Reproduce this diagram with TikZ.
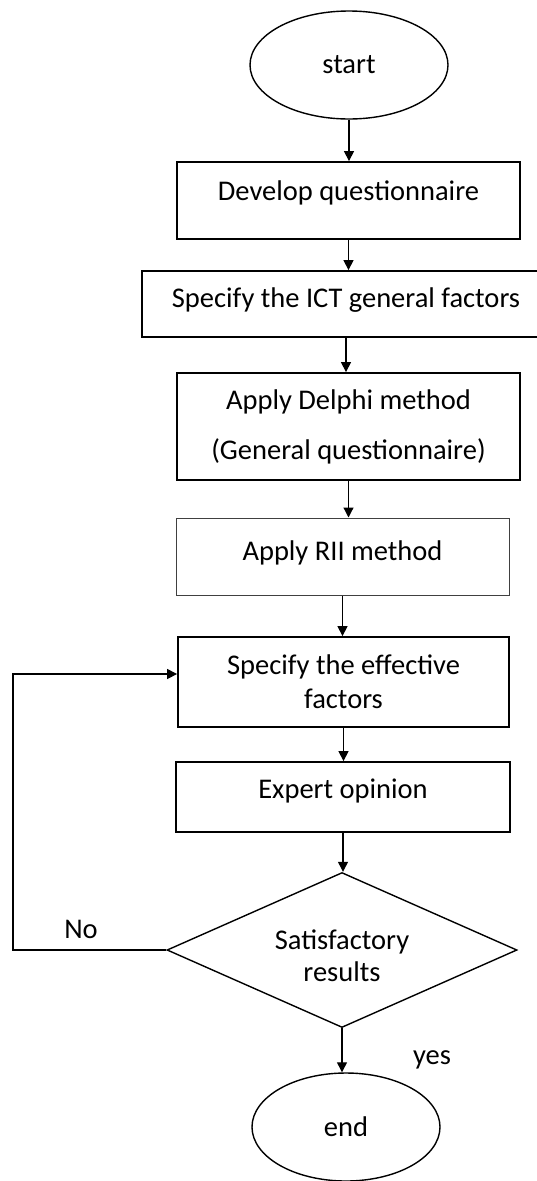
\documentclass[tikz,border=0pt]{standalone}
\usepackage{fontspec}
\setmainfont{Carlito}
\usetikzlibrary{arrows.meta,shapes.geometric,calc}
\begin{document}
\begin{tikzpicture}[x=1pt,y=-1pt,
  txt/.style={font=\fontsize{28.5pt}{34pt}\selectfont},
  stepbox/.style={draw, line width=1.8pt, rectangle, inner sep=0pt, txt, align=center},
  thinbox/.style={draw=black!75, line width=1pt, rectangle, inner sep=0pt, txt, align=center},
  term/.style={draw, line width=1.4pt, ellipse, inner sep=0pt, txt},
  decide/.style={draw, line width=1.4pt, diamond, inner sep=0pt, txt, align=center, shape aspect=2.26},
  arr/.style={draw, line width=1.2pt, -{Triangle[length=10pt,width=10pt]}}
]
\useasboundingbox (0,0) rectangle (536,1181);

\node[term, minimum width=198pt, minimum height=108pt] (start) at (349,65) {start};
\node[stepbox, minimum width=343pt, minimum height=77pt, text depth=19.7pt] (b1) at (348.5,200.5) {Develop questionnaire};
\node[stepbox, minimum width=408pt, minimum height=66pt, text depth=13.7pt] (b2) at (346,304) {Specify the ICT general factors};
\node[stepbox, minimum width=343pt, minimum height=107pt] (b3) at (348.5,426.5) {Apply Delphi method\\[16pt](General questionnaire)};
\node[thinbox, minimum width=333pt, minimum height=77pt, text depth=12.7pt] (b4) at (342.5,556.5) {Apply RII method};
\node[stepbox, minimum width=331pt, minimum height=90pt] (b5) at (343.5,682) {Specify the effective\\factors};
\node[stepbox, minimum width=334pt, minimum height=70pt, text depth=15.7pt] (b6) at (343,797) {Expert opinion};
\node[decide, minimum width=350pt, minimum height=155pt] (dec) at (342,950) {\rule{0pt}{31pt}Satisfactory\\[-2pt]results};
\node[term, minimum width=188pt, minimum height=108pt] (end) at (346,1127) {end};

\node[txt] (no) at (81,929) {No};
\node[txt] (yes) at (432,1060) {yes};

\coordinate (fb) at (13,950);
\coordinate (fbtop) at (13,674);

\draw[arr] (start.south) -- (start.south |- b1.north);
\draw[arr] (b1.south) -- (b1.south |- b2.north);
\draw[arr] (b2.south) -- (b2.south |- b3.north);
\draw[arr] (b3.south) -- (b3.south |- b4.north);
\draw[arr] (b4.south) -- (b4.south |- b5.north);
\draw[arr] (b5.south) -- (b5.south |- b6.north);
\draw[arr] (b6.south) -- (b6.south |- dec.north);
\draw[arr] (dec.south) -- (dec.south |- end.north);
\draw[arr] (dec.west) -- (fb) -- (fbtop) -- (fbtop -| b5.west);
\end{tikzpicture}
\end{document}
